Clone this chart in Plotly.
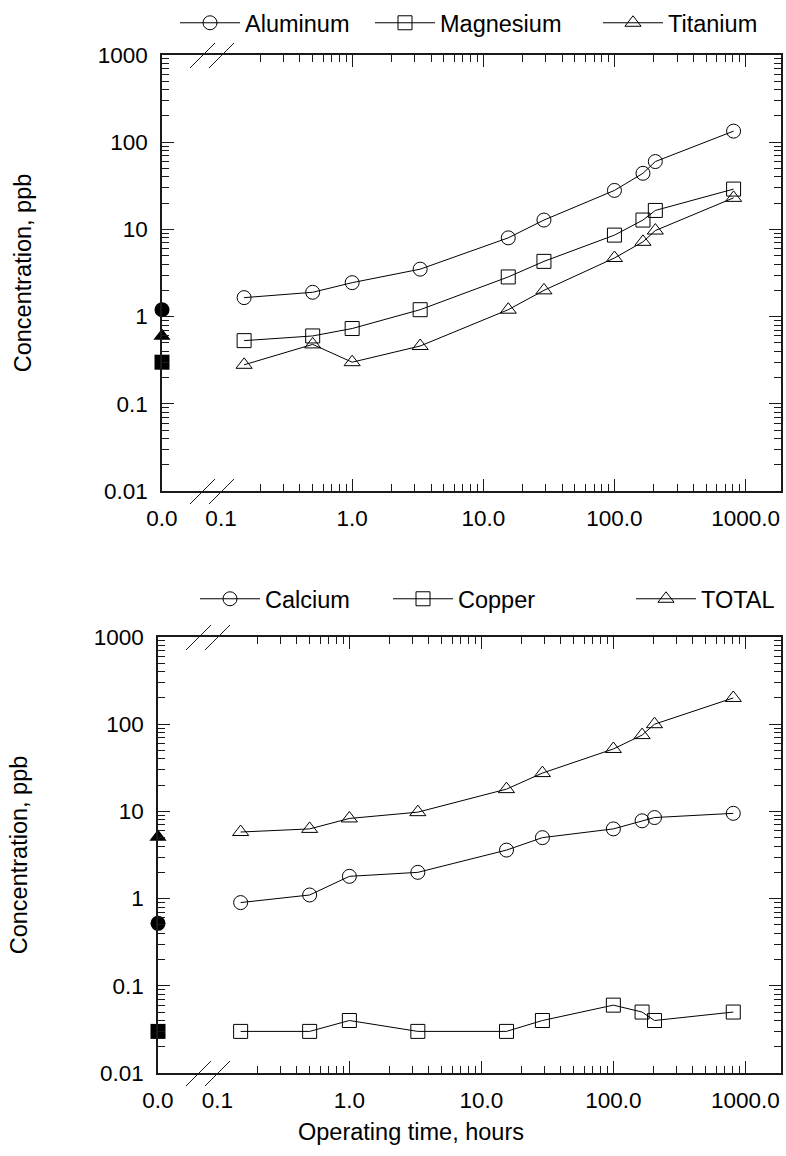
import numpy as np
import plotly.graph_objects as go

W, H = 786, 1156
FONT = "Liberation Sans, Arial, Helvetica, sans-serif"
INK = "#1a1a1a"

# ---------------- data ----------------
time_h = [0.15, 0.5, 1.0, 3.3, 15.5, 29, 100, 165, 205, 810]

aluminum = [1.65, 1.9, 2.45, 3.5, 8.0, 12.8, 28, 44, 60, 134]
magnesium = [0.53, 0.60, 0.73, 1.2, 2.85, 4.3, 8.6, 12.8, 16.5, 29]
titanium = [0.28, 0.48, 0.30, 0.46, 1.2, 2.0, 4.7, 7.2, 9.7, 23]

calcium = [0.9, 1.1, 1.8, 2.0, 3.6, 5.0, 6.3, 7.8, 8.5, 9.5]
copper = [0.03, 0.03, 0.04, 0.03, 0.03, 0.04, 0.06, 0.05, 0.04, 0.05]
total = [5.8, 6.3, 8.3, 9.8, 18, 27.5, 52, 75, 100, 200]

# concentrations at time 0.0 (drawn on the broken-axis "0.0" position)
initial_top = [1.2, 0.3, 0.6]        # Aluminum, Magnesium, Titanium
initial_bottom = [0.52, 0.03, 5.1]   # Calcium, Copper, TOTAL

top_names = ["Aluminum", "Magnesium", "Titanium"]
bottom_names = ["Calcium", "Copper", "TOTAL"]

y_tick_vals = [0.01, 0.1, 1, 10, 100, 1000]
y_tick_text = ["0.01", "0.1", "1", "10", "100", "1000"]
x_major_vals = [1, 10, 100, 1000]
x_label_text = ["0.0", "0.1", "1.0", "10.0", "100.0", "1000.0"]

# ---------------- layout geometry ----------------
X_LOG_RANGE = [-1.45, 3.27]
Y_LOG_RANGE = [-2, 3]
X_ZERO = 10 ** X_LOG_RANGE[0]
x_label_vals = [X_ZERO, 0.1] + x_major_vals

x_minor = [m * 10 ** e for e in range(-1, 3) for m in range(2, 10)]
y_minor = [m * 10 ** e for e in range(-2, 3) for m in range(2, 10)]

dom_top_x = [162 / W, 781 / W]
dom_top_y = [1 - 491 / H, 1 - 55 / H]
dom_bot_x = [158 / W, 781 / W]
dom_bot_y = [1 - 1073 / H, 1 - 637 / H]

open_symbols = ["circle-open", "square-open", "triangle-up-open"]
filled_symbols = ["circle", "square", "triangle-up"]

# legend entry widths (spacing of the legend items)
top_legend_w = [120, 153, 95]
bottom_legend_w = [118, 168, 80]

TICK_FONT = dict(family=FONT, size=22.5, color="black")
LEG_FONT = dict(family=FONT, size=23.5, color="black")

fig = go.Figure()


def add_panel(series, names, initial, lw, xa, ya, xa_ticks, legend_id):
    for vals, name, osym, w in zip(series, names, open_symbols, lw):
        fig.add_trace(go.Scatter(
            x=time_h, y=vals, name=name, mode="lines+markers",
            xaxis=xa, yaxis=ya, legend=legend_id, legendwidth=w,
            cliponaxis=False,
            line=dict(color="black", width=1),
            marker=dict(symbol=osym, size=14, color="black",
                        line=dict(color="black", width=1)),
        ))
    for v, fsym in zip(initial, filled_symbols):
        fig.add_trace(go.Scatter(
            x=[X_ZERO], y=[v], mode="markers", showlegend=False,
            xaxis=xa, yaxis=ya, cliponaxis=False,
            marker=dict(symbol=fsym, size=15, color="black"),
        ))
    # empty trace that carries the tick-only overlay axis
    fig.add_trace(go.Scatter(x=[], y=[], xaxis=xa_ticks, yaxis=ya,
                             showlegend=False, hoverinfo="skip"))


add_panel([aluminum, magnesium, titanium], top_names, initial_top,
          top_legend_w, "x", "y", "x3", "legend")
add_panel([calcium, copper, total], bottom_names, initial_bottom,
          bottom_legend_w, "x2", "y2", "x4", "legend2")


def x_label_axis(domain, anchor):
    return dict(
        type="log", range=X_LOG_RANGE, domain=domain, anchor=anchor,
        tickmode="array", tickvals=x_label_vals, ticktext=x_label_text,
        ticks="", showline=True, linecolor=INK, linewidth=1.5, mirror=True,
        showgrid=False, zeroline=False, tickfont=TICK_FONT,
        ticklabelstandoff=6, automargin=False,
    )


def x_tick_axis(overlay, anchor):
    return dict(
        type="log", range=X_LOG_RANGE, overlaying=overlay, anchor=anchor,
        tickmode="array", tickvals=x_major_vals, ticks="inside",
        ticklen=12, tickwidth=1.2, tickcolor=INK, showticklabels=False,
        showline=False, mirror="ticks", showgrid=False, zeroline=False,
        automargin=False,
        minor=dict(tickmode="array", tickvals=x_minor, ticks="inside",
                   ticklen=7, tickwidth=1.2, tickcolor=INK, showgrid=False),
    )


def y_axis(domain, anchor):
    return dict(
        type="log", range=Y_LOG_RANGE, domain=domain, anchor=anchor,
        tickmode="array", tickvals=y_tick_vals, ticktext=y_tick_text,
        ticks="inside", ticklen=12, tickwidth=1.2, tickcolor=INK,
        showline=True, linecolor=INK, linewidth=1.5, mirror="ticks",
        showgrid=False, zeroline=False, tickfont=TICK_FONT,
        ticklabelstandoff=8, automargin=False,
        minor=dict(tickmode="array", tickvals=y_minor, ticks="inside",
                   ticklen=7, tickwidth=1.2, tickcolor=INK, showgrid=False),
        title=dict(text="Concentration, ppb",
                   font=dict(family=FONT, size=23.5, color="black"),
                   standoff=59),
    )


def legend(ypix, xpix):
    return dict(
        orientation="h", x=xpix / W, y=1 - ypix / H, xanchor="left",
        yanchor="middle", font=LEG_FONT, bgcolor="rgba(0,0,0,0)",
        itemwidth=60, borderwidth=0, entrywidthmode="pixels",
    )


# axis-break marks ("//") on the bottom and top frame lines near the left
shapes = []
for dx, dy in [(dom_top_x[0], dom_top_y), (dom_bot_x[0], dom_bot_y)]:
    for yanch in dy:
        for off in (0, 19):
            shapes.append(dict(
                type="line", xref="paper", yref="paper",
                xsizemode="pixel", ysizemode="pixel",
                xanchor=dx, yanchor=yanch,
                x0=28 + off, x1=53 + off, y0=-13, y1=12,
                line=dict(color=INK, width=1),
            ))

fig.update_layout(
    width=W, height=H,
    margin=dict(l=0, r=0, t=0, b=0, pad=0, autoexpand=False),
    paper_bgcolor="white", plot_bgcolor="white",
    font=dict(family=FONT, size=22.5, color="black"),
    xaxis=x_label_axis(dom_top_x, "y"),
    xaxis3=x_tick_axis("x", "y"),
    yaxis=y_axis(dom_top_y, "x"),
    xaxis2=x_label_axis(dom_bot_x, "y2"),
    xaxis4=x_tick_axis("x2", "y2"),
    yaxis2=y_axis(dom_bot_y, "x2"),
    legend=legend(23, 175),
    legend2=legend(599, 195),
    shapes=shapes,
    annotations=[dict(
        text="Operating time, hours", xref="paper", yref="paper",
        x=411 / W, y=1 - 1132 / H, xanchor="center", yanchor="middle",
        showarrow=False, font=dict(family=FONT, size=23.5, color="black"),
    )],
    showlegend=True,
)

fig.write_html("out.html")
